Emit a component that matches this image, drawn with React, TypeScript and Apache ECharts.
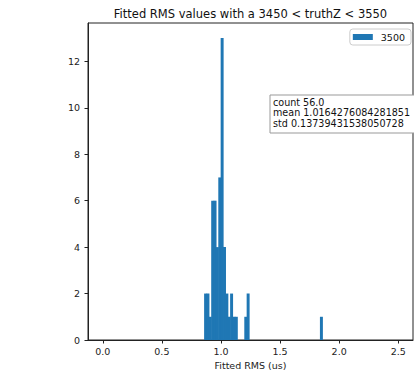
import React, { useEffect, useRef } from "react";
import * as echarts from "echarts";

// Histogram bins (start of each 0.02-wide bin) and their counts
const binStarts = [0.86, 0.88, 0.90, 0.92, 0.94, 0.96, 0.98, 1.00, 1.02, 1.04, 1.06, 1.08, 1.10, 1.12, 1.20, 1.22, 1.84];
const counts = [2, 2, 1, 6, 6, 4, 7, 13, 4, 2, 1, 2, 1, 1, 1, 2, 1];
const binWidth = 0.02;
const seriesName = "3500";
const xTicks = [0, 0.5, 1, 1.5, 2, 2.5];
const yTicks = [0, 2, 4, 6, 8, 10, 12];
const titleText = "Fitted RMS values with a 3450 < truthZ < 3550";
const xLabel = "Fitted RMS (us)";
const statLines = ["count 56.0", "mean 1.0164276084281851", "std 0.13739431538050728"];

const FONT = "DejaVu Sans";
const BLUE = "#1f77b4";

export default function App() {
  const ref = useRef<HTMLDivElement>(null);
  useEffect(() => {
    document.body.style.margin = "0";
    const chart = echarts.init(ref.current!, undefined, { renderer: "svg" });
    const data = binStarts.map((s, i) => [s, s + binWidth, counts[i]]);
    chart.setOption({
      animation: false,
      textStyle: { fontFamily: FONT },
      grid: { left: 88, right: 1, top: 23, bottom: 30, containLabel: false, outerBoundsMode: "none", show: true, borderColor: "#222", borderWidth: 1 },
      legend: {
        data: [seriesName],
        top: 29,
        right: 3,
        icon: "rect",
        itemWidth: 20,
        itemHeight: 6,
        padding: [3, 6, 3, 3],
        borderColor: "#cccccc",
        borderWidth: 1,
        borderRadius: 3,
        backgroundColor: "#fff",
        textStyle: { fontFamily: FONT, fontSize: 9.5, color: "#111", padding: [0, 0, 0, 3] },
      },
      xAxis: {
        type: "value",
        min: -0.125,
        max: 2.625,
        splitLine: { show: false },
        axisLine: { show: true, onZero: false, lineStyle: { color: "#222", width: 1 } },
        axisTick: { show: true, length: 3.5, lineStyle: { color: "#222" }, customValues: xTicks },
        axisLabel: { fontFamily: FONT, fontSize: 9.5, color: "#222", margin: 6, customValues: xTicks, formatter: (v: number) => v.toFixed(1) },
        name: xLabel,
        nameLocation: "middle",
        nameGap: 15,
        nameTextStyle: { fontFamily: FONT, fontSize: 9.5, color: "#222" },
      },
      yAxis: {
        type: "value",
        min: 0,
        max: 13.65,
        splitLine: { show: false },
        axisLine: { show: true, onZero: false, lineStyle: { color: "#222", width: 1 } },
        axisTick: { show: true, length: 3.5, lineStyle: { color: "#222" }, customValues: yTicks },
        axisLabel: { fontFamily: FONT, fontSize: 9.5, color: "#222", margin: 8, customValues: yTicks },
      },
      series: [
        {
          name: seriesName,
          type: "custom",
          itemStyle: { color: BLUE },
          encode: { x: [0, 1], y: 2 },
          data,
          renderItem: (params: any, api: any) => {
            const p0 = api.coord([api.value(0), api.value(2)]);
            const p1 = api.coord([api.value(1), 0]);
            return {
              type: "rect",
              shape: { x: p0[0] - 0.3, y: p0[1], width: p1[0] - p0[0] + 0.6, height: p1[1] - p0[1] },
              style: { fill: BLUE, stroke: "none", lineWidth: 0 },
            };
          },
        },
      ],
      graphic: [
        {
          type: "text",
          x: 250.5,
          y: 13.5,
          style: { text: titleText, fontFamily: FONT, fontSize: 11.5, fill: "#111", textAlign: "center", textVerticalAlign: "middle" },
        },
        {
          type: "rect",
          shape: { x: 270, y: 95, width: 160, height: 38 },
          style: { fill: "#fff", stroke: "#999", lineWidth: 1 },
          z: 10,
        },
        ...statLines.map((t, i) => ({
          type: "text",
          x: 273,
          y: 102 + i * 10.5,
          z: 11,
          style: { text: t, fontFamily: FONT, fontSize: 9.6, fill: "#111", textAlign: "left", textVerticalAlign: "middle" },
        })),
      ],
    });
    return () => chart.dispose();
  }, []);
  return <div ref={ref} style={{ width: 414, height: 370 }} />;
}
